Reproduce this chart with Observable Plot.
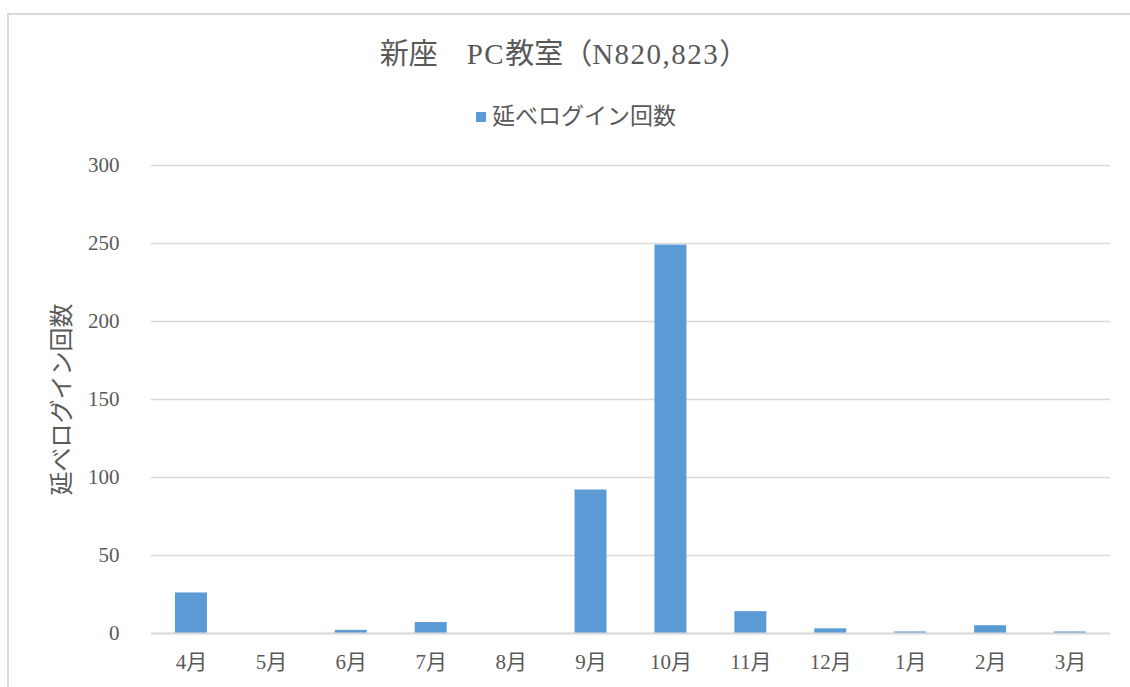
<!DOCTYPE html>
<html>
<head>
<meta charset="utf-8">
<script src="https://cdn.jsdelivr.net/npm/d3@7"></script>
<script src="https://cdn.jsdelivr.net/npm/@observablehq/plot@0.6"></script>
<style>
  html, body { margin: 0; padding: 0; background: #fff; overflow: hidden; }
  body { width: 1130px; height: 687px; position: relative; font-family: "Liberation Serif", "Noto Sans CJK JP", serif; color: #595959; }
  #frame { position: absolute; left: 7px; top: 13px; width: 1140px; height: 700px; border: 2px solid #d9d9d9; box-sizing: border-box; }
  #title { position: absolute; left: 264px; width: 600px; top: 36px; text-align: center; font-size: 29px; line-height: 36px; white-space: nowrap; }
  #title .lat { letter-spacing: 1.5px; }
  #legend { position: absolute; left: 276px; width: 600px; top: 102px; text-align: center; font-size: 23px; line-height: 30px; white-space: nowrap; }
  #legend .sw { display: inline-block; width: 10px; height: 10px; background: #5B9BD5; margin-right: 6px; vertical-align: 2px; }
  #chart { position: absolute; left: 0; top: 140px; }
</style>
</head>
<body>
<div id="frame"></div>
<div id="title">新座　<span class="lat">PC</span>教室（<span class="lat">N820,823</span>）</div>
<div id="legend"><span class="sw"></span>延べログイン回数</div>
<div id="chart"></div>
<script>
const months = ["4月","5月","6月","7月","8月","9月","10月","11月","12月","1月","2月","3月"];
const counts = [26, 0, 2, 7, 0, 92, 249, 14, 3, 1, 5, 1];
const yTicks = [0, 50, 100, 150, 200, 250, 300];
const yTitle = ["延べログイン回数"];

const data = months.map((m, i) => ({month: m, value: counts[i]}));

const plot = Plot.plot({
  width: 1130,
  height: 547,
  marginLeft: 151,
  marginRight: 20,
  marginTop: 25,
  marginBottom: 54,
  style: { fontFamily: "'Liberation Serif', 'Noto Sans CJK JP', serif", color: "#595959", background: "transparent", overflow: "visible" },
  x: { domain: months, paddingInner: 0.6, paddingOuter: 0.3, round: false, label: null },
  y: { domain: [0, 300], label: null },
  marks: [
    Plot.gridY(yTicks, { stroke: "#d9d9d9", strokeOpacity: 1, strokeWidth: 1.3 }),
    Plot.barY(data, { x: "month", y: "value", fill: "#5B9BD5" }),
    Plot.ruleY([0], { stroke: "#d9d9d9", strokeWidth: 2 }),
    Plot.axisX({ tickSize: 0, tickPadding: 21, fontSize: 21, fill: "#595959", label: null }),
    Plot.axisY(yTicks, { tickSize: 0, tickPadding: 32, fontSize: 21, fill: "#595959", label: null, tickFormat: d => String(d) }),
    Plot.text(yTitle, { text: d => d, frameAnchor: "left", textAnchor: "middle", dx: -89, rotate: -90, fontSize: 24, fill: "#595959" })
  ]
});
document.getElementById("chart").appendChild(plot);
</script>
</body>
</html>
